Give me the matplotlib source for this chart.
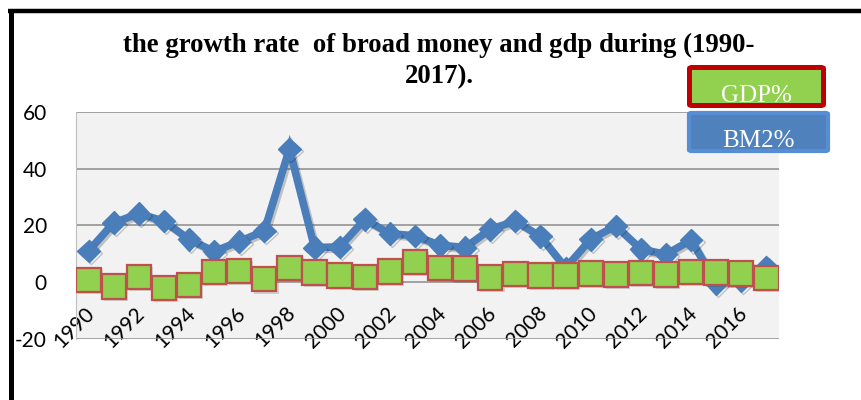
import numpy as np
import matplotlib
matplotlib.use("Agg")
import matplotlib.pyplot as plt
import matplotlib.patheffects as pe
from matplotlib.transforms import ScaledTranslation
from matplotlib.patches import FancyBboxPatch
from matplotlib.lines import Line2D

plt.rcParams['axes.unicode_minus'] = False

# data
years = list(range(1990, 2018))
bm2 = [11.0, 20.9, 24.1, 21.5, 15.1, 10.8, 14.3, 18.0, 46.9, 12.2,
       12.4, 22.1, 17.1, 16.3, 13.0, 12.2, 18.6, 21.5, 16.1, 5.0,
       15.1, 19.8, 11.6, 9.8, 14.8, -0.4, 0.6, 5.2]
gdp = [0.8, -1.5, 1.9, -2.1, -1.0, 3.5, 4.0, 1.0, 5.0, 3.4,
       2.4, 1.8, 3.8, 7.1, 5.1, 4.8, 1.6, 2.8, 2.3, 2.3,
       3.1, 2.7, 3.3, 2.7, 3.5, 3.4, 3.0, 1.4]
yticks = [-20, 0, 20, 40, 60]
xtick_years = years[::2]

title = "the growth rate  of broad money and gdp during (1990-\n2017)."

fig = plt.figure(figsize=(8.61, 4.0), dpi=100)
ax = fig.add_axes([76/861, 1 - 339/400, (779 - 76)/861, (339 - 111.7)/400])
ax.set_facecolor('#F2F2F2')

x = np.arange(len(years))

# BM2% line with diamonds
ax.plot(x, bm2, color='#4A7EBB', lw=5.5, marker='D', ms=11.5,
        solid_joinstyle='miter', zorder=3,
        path_effects=[pe.SimpleLineShadow(offset=(1.5, -1.5), alpha=0.2), pe.Normal()])

# GDP% squares
ax.plot(x, gdp, linestyle='none', marker='s', ms=17.5, mfc='#92D050',
        mec='#C0504D', mew=1.6, zorder=4,
        path_effects=[pe.SimplePatchShadow(offset=(1.5, -1.5), alpha=0.18), pe.Normal()])

ax.set_xlim(-0.5, len(years) - 0.5)
ax.set_ylim(-20, 60)
ax.set_yticks(yticks)
ax.set_yticklabels([str(v) for v in yticks])
ax.yaxis.grid(True, color='#8C8C8C', lw=1.1)
ax.set_axisbelow(True)
for s in ['top', 'right', 'bottom']:
    ax.spines[s].set_visible(False)
ax.spines['left'].set_color('#BFBFBF')
ax.spines['left'].set_linewidth(0.8)

ax.set_xticks([years.index(y) for y in xtick_years])
ax.set_xticklabels([str(y) for y in xtick_years])
ax.tick_params(axis='both', length=0, labelsize=15)
ax.tick_params(axis='y', pad=21)
ax.tick_params(axis='x', pad=0)
off = ScaledTranslation(0.03, 0.29, fig.dpi_scale_trans)
for lab in ax.get_xticklabels():
    lab.set_rotation(45)
    lab.set_ha('right')
    lab.set_va('center')
    lab.set_rotation_mode('anchor')
    lab.set_transform(lab.get_transform() + off)
for lab in ax.get_xticklabels() + ax.get_yticklabels():
    lab.set_fontfamily('Lato')

# title
fig.text(439/861, 1 - 83/400, title, ha='center', va='baseline',
         fontsize=19.3, fontweight='bold', family='Liberation Serif',
         linespacing=1.33, multialignment='center')

# legend boxes
def fig_box(x0, y0, x1, y1, face, edge, lw):
    W, H = 861, 400
    p = FancyBboxPatch((x0/W, 1 - y1/H), (x1 - x0)/W, (y1 - y0)/H,
                       boxstyle='round,pad=0,rounding_size=0.003',
                       transform=fig.transFigure, facecolor=face,
                       edgecolor=edge, lw=lw)
    fig.patches.append(p)

fig_box(689.5, 67.5, 823.5, 105.5, '#92D050', '#C00000', 3.6)
fig_box(689, 113, 828, 151, '#4F81BD', '#558ED5', 3.0)
fig.text(756/861, 1 - 102/400, 'GDP%', ha='center', va='baseline',
         color='white', fontsize=18, family='Liberation Serif')
fig.text(758/861, 1 - 147/400, 'BM2%', ha='center', va='baseline',
         color='white', fontsize=18, family='Liberation Serif')

# outer frame lines (left and top)
fig.add_artist(Line2D([10.5/861, 10.5/861], [0, 1 - 9/400], color='black',
                      lw=3.6, transform=fig.transFigure, solid_capstyle='butt'))
fig.add_artist(Line2D([8/861, 1], [1 - 11/400, 1 - 11/400], color='black',
                      lw=3.2, transform=fig.transFigure, solid_capstyle='butt'))

fig.savefig('out.png', dpi=100)
